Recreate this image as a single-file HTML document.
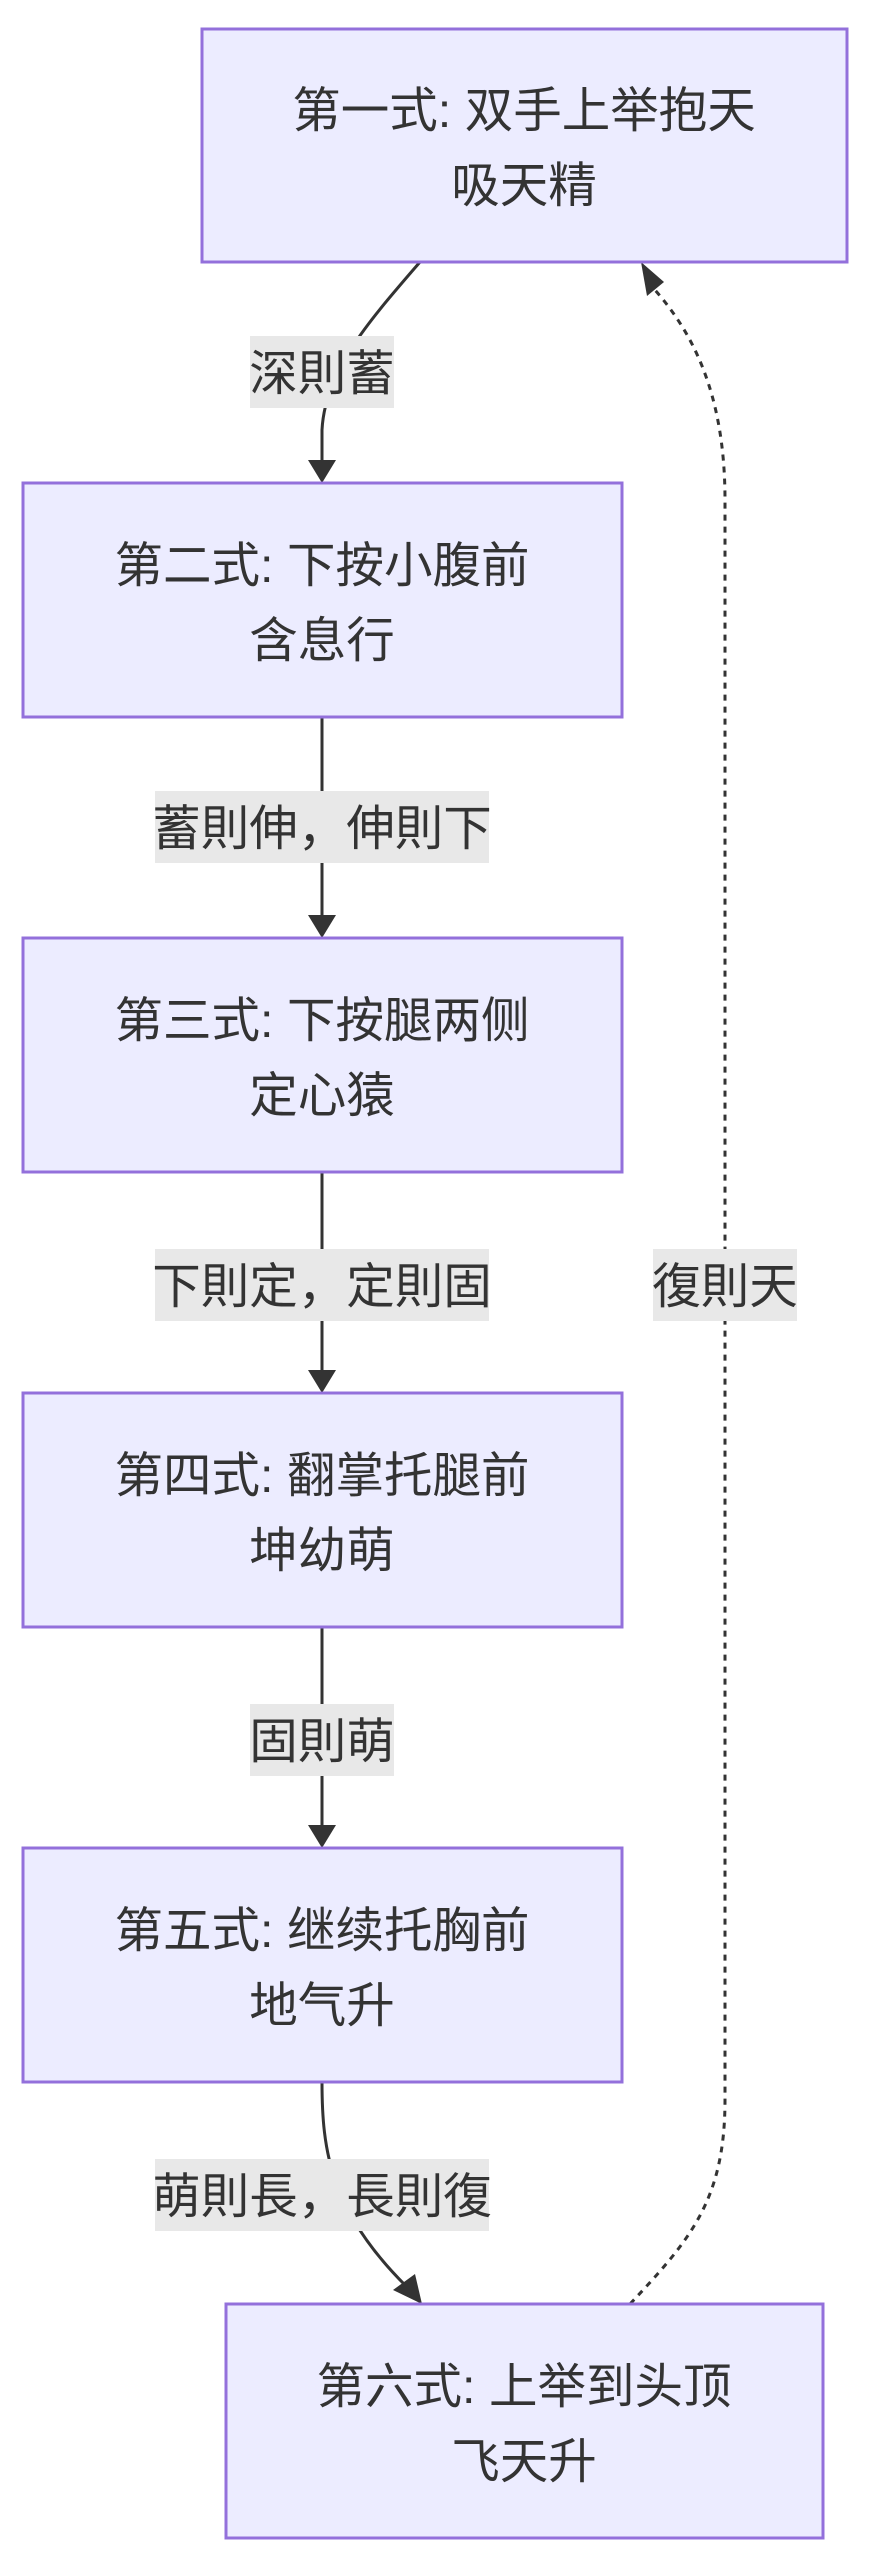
<!DOCTYPE html>
<html><head><meta charset="utf-8"><style>
html,body{margin:0;padding:0;background:#fff;}
svg text{font-family:"Liberation Sans","Noto Sans CJK SC",sans-serif;font-size:48.5px;fill:#333;}
</style></head><body>
<svg width="869" height="2562" viewBox="0 0 869 2562" xmlns="http://www.w3.org/2000/svg">
<g fill="none" stroke="#333" stroke-width="3">
<path d="M420,262 C370,320 325,370 322,430 L322,460"/>
<path d="M322,717 L322,915"/>
<path d="M322,1172 L322,1370"/>
<path d="M322,1627 L322,1825"/>
<path d="M322,2082 C322,2150 330,2210 405,2285"/>
<path d="M630,2304 C690,2240 725,2200 725,2100 L725,500 C725,390 690,330 655,290" stroke-dasharray="6,6"/>
</g>
<g fill="#333">
<path d="M308,460 L336,460 L322,483 z"/>
<path d="M308,915 L336,915 L322,938 z"/>
<path d="M308,1370 L336,1370 L322,1393 z"/>
<path d="M308,1825 L336,1825 L322,1848 z"/>
<path d="M393,2290 L415,2274 L422,2304 z"/>
<path d="M641,262 L664,282 L647,296 z"/>
</g>
<g fill="#ECECFF" stroke="#9370DB" stroke-width="3">
<rect x="202" y="29" width="645" height="233"/>
<rect x="23" y="483" width="599" height="234"/>
<rect x="23" y="938" width="599" height="234"/>
<rect x="23" y="1393" width="599" height="234"/>
<rect x="23" y="1848" width="599" height="234"/>
<rect x="226" y="2304" width="597" height="234"/>
</g>
<g fill="#e8e8e8">
<rect x="250" y="336" width="144" height="72"/>
<rect x="155" y="791" width="334" height="72"/>
<rect x="155" y="1249" width="334" height="72"/>
<rect x="250" y="1704" width="144" height="72"/>
<rect x="155" y="2159" width="334" height="72"/>
<rect x="653" y="1249" width="144" height="72"/>
</g>
<g text-anchor="middle">
<text x="524" y="127">第一式: 双手上举抱天</text>
<text x="524" y="202">吸天精</text>
<text x="322" y="582">第二式: 下按小腹前</text>
<text x="322" y="657">含息行</text>
<text x="322" y="1037">第三式: 下按腿两侧</text>
<text x="322" y="1112">定心猿</text>
<text x="322" y="1492">第四式: 翻掌托腿前</text>
<text x="322" y="1567">坤幼萌</text>
<text x="322" y="1947">第五式: 继续托胸前</text>
<text x="322" y="2022">地气升</text>
<text x="524" y="2403">第六式: 上举到头顶</text>
<text x="524" y="2478">飞天升</text>
<text x="322" y="390">深則蓄</text>
<text x="322" y="845">蓄則伸，伸則下</text>
<text x="322" y="1303">下則定，定則固</text>
<text x="322" y="1758">固則萌</text>
<text x="322" y="2213">萌則長，長則復</text>
<text x="725" y="1303">復則天</text>
</g>
</svg>
</body></html>
